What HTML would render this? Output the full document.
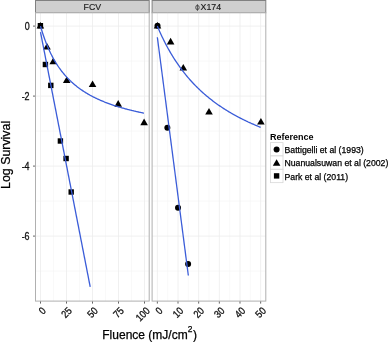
<!DOCTYPE html><html><head><meta charset="utf-8"><style>html,body{margin:0;padding:0;background:#fff;}svg{display:block;will-change:transform;}text{font-family:"Liberation Sans",sans-serif;} .t{stroke:#000;stroke-width:0.25px;}</style></head><body>
<svg width="388" height="342" viewBox="0 0 388 342">
<rect x="0" y="0" width="388" height="342" fill="#fff"/>
<rect x="35.5" y="0.5" width="113.7" height="12.3" fill="#CFCFCF" stroke="#808080" stroke-width="1"/>
<text x="92.35" y="10.3" font-size="8.8" text-anchor="middle" fill="#1a1a1a" stroke="#1a1a1a" stroke-width="0.15">FCV</text>
<rect x="35.5" y="12.8" width="113.7" height="288.3" fill="#fff"/>
<line x1="53.5" y1="12.8" x2="53.5" y2="301.1" stroke="#F7F7F7" stroke-width="0.7"/>
<line x1="79.5" y1="12.8" x2="79.5" y2="301.1" stroke="#F7F7F7" stroke-width="0.7"/>
<line x1="105.5" y1="12.8" x2="105.5" y2="301.1" stroke="#F7F7F7" stroke-width="0.7"/>
<line x1="131.5" y1="12.8" x2="131.5" y2="301.1" stroke="#F7F7F7" stroke-width="0.7"/>
<line x1="35.5" y1="61.1" x2="149.2" y2="61.1" stroke="#F7F7F7" stroke-width="0.7"/>
<line x1="35.5" y1="131.1" x2="149.2" y2="131.1" stroke="#F7F7F7" stroke-width="0.7"/>
<line x1="35.5" y1="201.1" x2="149.2" y2="201.1" stroke="#F7F7F7" stroke-width="0.7"/>
<line x1="35.5" y1="271.1" x2="149.2" y2="271.1" stroke="#F7F7F7" stroke-width="0.7"/>
<line x1="40.5" y1="12.8" x2="40.5" y2="301.1" stroke="#ECECEC" stroke-width="0.8"/>
<line x1="66.5" y1="12.8" x2="66.5" y2="301.1" stroke="#ECECEC" stroke-width="0.8"/>
<line x1="92.5" y1="12.8" x2="92.5" y2="301.1" stroke="#ECECEC" stroke-width="0.8"/>
<line x1="118.5" y1="12.8" x2="118.5" y2="301.1" stroke="#ECECEC" stroke-width="0.8"/>
<line x1="144.5" y1="12.8" x2="144.5" y2="301.1" stroke="#ECECEC" stroke-width="0.8"/>
<line x1="35.5" y1="26.1" x2="149.2" y2="26.1" stroke="#ECECEC" stroke-width="0.8"/>
<line x1="35.5" y1="96.1" x2="149.2" y2="96.1" stroke="#ECECEC" stroke-width="0.8"/>
<line x1="35.5" y1="166.1" x2="149.2" y2="166.1" stroke="#ECECEC" stroke-width="0.8"/>
<line x1="35.5" y1="236.1" x2="149.2" y2="236.1" stroke="#ECECEC" stroke-width="0.8"/>
<line x1="40.5" y1="301.1" x2="40.5" y2="303.6" stroke="#555555" stroke-width="0.9"/>
<text x="0" y="0" font-size="10.4" text-anchor="end" fill="#111" stroke="#111" stroke-width="0.3" transform="translate(46.5 311.5) rotate(-45) scale(0.86 1)">0</text>
<line x1="66.5" y1="301.1" x2="66.5" y2="303.6" stroke="#555555" stroke-width="0.9"/>
<text x="0" y="0" font-size="10.4" text-anchor="end" fill="#111" stroke="#111" stroke-width="0.3" transform="translate(72.5 311.5) rotate(-45) scale(0.86 1)">25</text>
<line x1="92.5" y1="301.1" x2="92.5" y2="303.6" stroke="#555555" stroke-width="0.9"/>
<text x="0" y="0" font-size="10.4" text-anchor="end" fill="#111" stroke="#111" stroke-width="0.3" transform="translate(98.5 311.5) rotate(-45) scale(0.86 1)">50</text>
<line x1="118.5" y1="301.1" x2="118.5" y2="303.6" stroke="#555555" stroke-width="0.9"/>
<text x="0" y="0" font-size="10.4" text-anchor="end" fill="#111" stroke="#111" stroke-width="0.3" transform="translate(124.5 311.5) rotate(-45) scale(0.86 1)">75</text>
<line x1="144.5" y1="301.1" x2="144.5" y2="303.6" stroke="#555555" stroke-width="0.9"/>
<text x="0" y="0" font-size="10.4" text-anchor="end" fill="#111" stroke="#111" stroke-width="0.3" transform="translate(150.5 311.5) rotate(-45) scale(0.86 1)">100</text>
<rect x="152.1" y="0.5" width="113.7" height="12.3" fill="#CFCFCF" stroke="#808080" stroke-width="1"/>
<ellipse cx="197.45" cy="7.5" rx="1.75" ry="2.2" fill="none" stroke="#333" stroke-width="0.8"/>
<line x1="197.45" y1="4.3" x2="197.45" y2="10.8" stroke="#333" stroke-width="0.75"/>
<text x="200.6" y="10.3" font-size="8.8" fill="#1a1a1a" stroke="#1a1a1a" stroke-width="0.15">X174</text>
<rect x="152.1" y="12.8" width="113.7" height="288.3" fill="#fff"/>
<line x1="167.68" y1="12.8" x2="167.68" y2="301.1" stroke="#F7F7F7" stroke-width="0.7"/>
<line x1="188.34" y1="12.8" x2="188.34" y2="301.1" stroke="#F7F7F7" stroke-width="0.7"/>
<line x1="209" y1="12.8" x2="209" y2="301.1" stroke="#F7F7F7" stroke-width="0.7"/>
<line x1="229.66" y1="12.8" x2="229.66" y2="301.1" stroke="#F7F7F7" stroke-width="0.7"/>
<line x1="250.32" y1="12.8" x2="250.32" y2="301.1" stroke="#F7F7F7" stroke-width="0.7"/>
<line x1="152.1" y1="61.1" x2="265.8" y2="61.1" stroke="#F7F7F7" stroke-width="0.7"/>
<line x1="152.1" y1="131.1" x2="265.8" y2="131.1" stroke="#F7F7F7" stroke-width="0.7"/>
<line x1="152.1" y1="201.1" x2="265.8" y2="201.1" stroke="#F7F7F7" stroke-width="0.7"/>
<line x1="152.1" y1="271.1" x2="265.8" y2="271.1" stroke="#F7F7F7" stroke-width="0.7"/>
<line x1="157.35" y1="12.8" x2="157.35" y2="301.1" stroke="#ECECEC" stroke-width="0.8"/>
<line x1="178.01" y1="12.8" x2="178.01" y2="301.1" stroke="#ECECEC" stroke-width="0.8"/>
<line x1="198.67" y1="12.8" x2="198.67" y2="301.1" stroke="#ECECEC" stroke-width="0.8"/>
<line x1="219.33" y1="12.8" x2="219.33" y2="301.1" stroke="#ECECEC" stroke-width="0.8"/>
<line x1="239.99" y1="12.8" x2="239.99" y2="301.1" stroke="#ECECEC" stroke-width="0.8"/>
<line x1="260.65" y1="12.8" x2="260.65" y2="301.1" stroke="#ECECEC" stroke-width="0.8"/>
<line x1="152.1" y1="26.1" x2="265.8" y2="26.1" stroke="#ECECEC" stroke-width="0.8"/>
<line x1="152.1" y1="96.1" x2="265.8" y2="96.1" stroke="#ECECEC" stroke-width="0.8"/>
<line x1="152.1" y1="166.1" x2="265.8" y2="166.1" stroke="#ECECEC" stroke-width="0.8"/>
<line x1="152.1" y1="236.1" x2="265.8" y2="236.1" stroke="#ECECEC" stroke-width="0.8"/>
<line x1="157.35" y1="301.1" x2="157.35" y2="303.6" stroke="#555555" stroke-width="0.9"/>
<text x="0" y="0" font-size="10.4" text-anchor="end" fill="#111" stroke="#111" stroke-width="0.3" transform="translate(163.35 311.5) rotate(-45) scale(0.86 1)">0</text>
<line x1="178.01" y1="301.1" x2="178.01" y2="303.6" stroke="#555555" stroke-width="0.9"/>
<text x="0" y="0" font-size="10.4" text-anchor="end" fill="#111" stroke="#111" stroke-width="0.3" transform="translate(184.01 311.5) rotate(-45) scale(0.86 1)">10</text>
<line x1="198.67" y1="301.1" x2="198.67" y2="303.6" stroke="#555555" stroke-width="0.9"/>
<text x="0" y="0" font-size="10.4" text-anchor="end" fill="#111" stroke="#111" stroke-width="0.3" transform="translate(204.67 311.5) rotate(-45) scale(0.86 1)">20</text>
<line x1="219.33" y1="301.1" x2="219.33" y2="303.6" stroke="#555555" stroke-width="0.9"/>
<text x="0" y="0" font-size="10.4" text-anchor="end" fill="#111" stroke="#111" stroke-width="0.3" transform="translate(225.33 311.5) rotate(-45) scale(0.86 1)">30</text>
<line x1="239.99" y1="301.1" x2="239.99" y2="303.6" stroke="#555555" stroke-width="0.9"/>
<text x="0" y="0" font-size="10.4" text-anchor="end" fill="#111" stroke="#111" stroke-width="0.3" transform="translate(245.99 311.5) rotate(-45) scale(0.86 1)">40</text>
<line x1="260.65" y1="301.1" x2="260.65" y2="303.6" stroke="#555555" stroke-width="0.9"/>
<text x="0" y="0" font-size="10.4" text-anchor="end" fill="#111" stroke="#111" stroke-width="0.3" transform="translate(266.65 311.5) rotate(-45) scale(0.86 1)">50</text>
<line x1="33" y1="26.1" x2="35.5" y2="26.1" stroke="#555555" stroke-width="0.9"/>
<text x="0" y="0" font-size="10.4" text-anchor="end" fill="#111" stroke="#111" stroke-width="0.3" transform="translate(29.6 30.4) scale(0.86 1)">0</text>
<line x1="33" y1="96.1" x2="35.5" y2="96.1" stroke="#555555" stroke-width="0.9"/>
<text x="0" y="0" font-size="10.4" text-anchor="end" fill="#111" stroke="#111" stroke-width="0.3" transform="translate(29.6 100.4) scale(0.86 1)">-2</text>
<line x1="33" y1="166.1" x2="35.5" y2="166.1" stroke="#555555" stroke-width="0.9"/>
<text x="0" y="0" font-size="10.4" text-anchor="end" fill="#111" stroke="#111" stroke-width="0.3" transform="translate(29.6 170.4) scale(0.86 1)">-4</text>
<line x1="33" y1="236.1" x2="35.5" y2="236.1" stroke="#555555" stroke-width="0.9"/>
<text x="0" y="0" font-size="10.4" text-anchor="end" fill="#111" stroke="#111" stroke-width="0.3" transform="translate(29.6 240.4) scale(0.86 1)">-6</text>
<rect x="37.7" y="23" width="5.4" height="5.4" fill="#000"/>
<rect x="42.7" y="61.8" width="5.4" height="5.4" fill="#000"/>
<rect x="48.1" y="82.7" width="5.4" height="5.4" fill="#000"/>
<rect x="57.7" y="138.3" width="5.4" height="5.4" fill="#000"/>
<rect x="63.4" y="155.8" width="5.4" height="5.4" fill="#000"/>
<rect x="68.5" y="189.3" width="5.4" height="5.4" fill="#000"/>
<path d="M40.4 21.91L44.2 28.49L36.6 28.49Z" fill="#000"/>
<path d="M47 42.91L50.8 49.49L43.2 49.49Z" fill="#000"/>
<path d="M53.2 57.71L57 64.29L49.4 64.29Z" fill="#000"/>
<path d="M66.7 76.41L70.5 82.99L62.9 82.99Z" fill="#000"/>
<path d="M92.55 80.51L96.35 87.09L88.75 87.09Z" fill="#000"/>
<path d="M118.2 100.11L122 106.69L114.4 106.69Z" fill="#000"/>
<path d="M144.1 118.61L147.9 125.19L140.3 125.19Z" fill="#000"/>
<circle cx="157.5" cy="25.8" r="3" fill="#000"/>
<circle cx="167.35" cy="127.75" r="3" fill="#000"/>
<circle cx="178" cy="207.7" r="3" fill="#000"/>
<circle cx="188.1" cy="263.95" r="3" fill="#000"/>
<path d="M157.5 21.91L161.3 28.49L153.7 28.49Z" fill="#000"/>
<path d="M170.6 37.81L174.4 44.39L166.8 44.39Z" fill="#000"/>
<path d="M183.3 63.91L187.1 70.49L179.5 70.49Z" fill="#000"/>
<path d="M209 107.91L212.8 114.49L205.2 114.49Z" fill="#000"/>
<path d="M260.9 118.01L264.7 124.59L257.1 124.59Z" fill="#000"/>
<path d="M40.5 32.02 L90.21 286.81" fill="none" stroke="#3A5CD8" stroke-width="1.3" stroke-linejoin="round"/>
<path d="M40.5 26.1 L41.19 28.48 L41.88 30.75 L42.57 32.94 L43.26 35.04 L43.95 37.07 L44.64 39.01 L45.33 40.88 L46.02 42.69 L46.71 44.43 L47.4 46.11 L48.09 47.74 L48.78 49.3 L49.47 50.82 L50.16 52.29 L50.85 53.71 L51.54 55.08 L52.23 56.41 L52.92 57.7 L53.61 58.95 L54.3 60.17 L54.99 61.35 L55.68 62.49 L56.37 63.6 L57.06 64.68 L57.75 65.74 L58.44 66.76 L59.13 67.75 L59.82 68.72 L60.51 69.66 L61.2 70.58 L61.89 71.48 L62.58 72.35 L63.27 73.2 L63.96 74.03 L64.65 74.84 L65.34 75.63 L66.03 76.4 L66.71 77.15 L67.4 77.89 L68.09 78.61 L68.78 79.31 L69.47 80 L70.16 80.67 L70.85 81.32 L71.54 81.97 L72.23 82.59 L72.92 83.21 L73.61 83.81 L74.3 84.4 L74.99 84.98 L75.68 85.55 L76.37 86.1 L77.06 86.64 L77.75 87.18 L78.44 87.7 L79.13 88.21 L79.82 88.71 L80.51 89.21 L81.2 89.69 L81.89 90.16 L82.58 90.63 L83.27 91.09 L83.96 91.53 L84.65 91.98 L85.34 92.41 L86.03 92.83 L86.72 93.25 L87.41 93.66 L88.1 94.07 L88.79 94.46 L89.48 94.85 L90.17 95.24 L90.86 95.61 L91.55 95.98 L92.24 96.35 L92.93 96.71 L93.62 97.06 L94.31 97.41 L95 97.75 L95.69 98.09 L96.38 98.42 L97.07 98.74 L97.76 99.06 L98.45 99.38 L99.14 99.69 L99.83 100 L100.52 100.3 L101.21 100.6 L101.9 100.89 L102.59 101.18 L103.28 101.47 L103.97 101.75 L104.66 102.02 L105.35 102.3 L106.04 102.56 L106.73 102.83 L107.42 103.09 L108.11 103.35 L108.8 103.6 L109.49 103.85 L110.18 104.1 L110.87 104.35 L111.56 104.59 L112.25 104.83 L112.94 105.06 L113.63 105.29 L114.32 105.52 L115.01 105.75 L115.7 105.97 L116.39 106.19 L117.08 106.41 L117.77 106.62 L118.45 106.83 L119.14 107.04 L119.83 107.25 L120.52 107.45 L121.21 107.65 L121.9 107.85 L122.59 108.05 L123.28 108.24 L123.97 108.44 L124.66 108.63 L125.35 108.81 L126.04 109 L126.73 109.18 L127.42 109.36 L128.11 109.54 L128.8 109.72 L129.49 109.89 L130.18 110.07 L130.87 110.24 L131.56 110.41 L132.25 110.57 L132.94 110.74 L133.63 110.9 L134.32 111.06 L135.01 111.22 L135.7 111.38 L136.39 111.54 L137.08 111.69 L137.77 111.85 L138.46 112 L139.15 112.15 L139.84 112.3 L140.53 112.45 L141.22 112.59 L141.91 112.73 L142.6 112.88 L143.29 113.02 L143.98 113.16" fill="none" stroke="#3A5CD8" stroke-width="1.3" stroke-linejoin="round"/>
<path d="M157.35 26.1 L158.04 27.73 L158.73 29.33 L159.42 30.91 L160.1 32.45 L160.79 33.96 L161.48 35.45 L162.17 36.91 L162.86 38.34 L163.55 39.75 L164.24 41.14 L164.93 42.5 L165.61 43.83 L166.3 45.15 L166.99 46.44 L167.68 47.71 L168.37 48.95 L169.06 50.18 L169.75 51.39 L170.43 52.58 L171.12 53.75 L171.81 54.9 L172.5 56.03 L173.19 57.14 L173.88 58.24 L174.57 59.32 L175.26 60.38 L175.94 61.43 L176.63 62.46 L177.32 63.48 L178.01 64.48 L178.7 65.46 L179.39 66.43 L180.08 67.39 L180.76 68.33 L181.45 69.26 L182.14 70.18 L182.83 71.08 L183.52 71.97 L184.21 72.85 L184.9 73.72 L185.59 74.57 L186.27 75.41 L186.96 76.24 L187.65 77.06 L188.34 77.87 L189.03 78.67 L189.72 79.46 L190.41 80.23 L191.09 81 L191.78 81.76 L192.47 82.51 L193.16 83.24 L193.85 83.97 L194.54 84.69 L195.23 85.4 L195.92 86.1 L196.6 86.79 L197.29 87.48 L197.98 88.15 L198.67 88.82 L199.36 89.48 L200.05 90.13 L200.74 90.77 L201.42 91.41 L202.11 92.04 L202.8 92.66 L203.49 93.27 L204.18 93.88 L204.87 94.48 L205.56 95.07 L206.25 95.65 L206.93 96.23 L207.62 96.8 L208.31 97.37 L209 97.93 L209.69 98.48 L210.38 99.03 L211.07 99.57 L211.75 100.11 L212.44 100.64 L213.13 101.16 L213.82 101.68 L214.51 102.19 L215.2 102.7 L215.89 103.2 L216.58 103.7 L217.26 104.19 L217.95 104.68 L218.64 105.16 L219.33 105.63 L220.02 106.11 L220.71 106.57 L221.4 107.03 L222.08 107.49 L222.77 107.94 L223.46 108.39 L224.15 108.84 L224.84 109.27 L225.53 109.71 L226.22 110.14 L226.91 110.57 L227.59 110.99 L228.28 111.41 L228.97 111.82 L229.66 112.23 L230.35 112.64 L231.04 113.04 L231.73 113.44 L232.41 113.83 L233.1 114.23 L233.79 114.61 L234.48 115 L235.17 115.38 L235.86 115.76 L236.55 116.13 L237.24 116.5 L237.92 116.87 L238.61 117.23 L239.3 117.59 L239.99 117.95 L240.68 118.3 L241.37 118.65 L242.06 119 L242.74 119.34 L243.43 119.69 L244.12 120.02 L244.81 120.36 L245.5 120.69 L246.19 121.02 L246.88 121.35 L247.57 121.67 L248.25 122 L248.94 122.31 L249.63 122.63 L250.32 122.94 L251.01 123.25 L251.7 123.56 L252.39 123.87 L253.07 124.17 L253.76 124.47 L254.45 124.77 L255.14 125.07 L255.83 125.36 L256.52 125.65 L257.21 125.94 L257.9 126.23 L258.58 126.51 L259.27 126.79 L259.96 127.07 L260.65 127.35" fill="none" stroke="#3A5CD8" stroke-width="1.3" stroke-linejoin="round"/>
<path d="M157.35 37.27 L188.34 275.51" fill="none" stroke="#3A5CD8" stroke-width="1.3" stroke-linejoin="round"/>
<rect x="35.5" y="12.8" width="113.7" height="288.3" fill="none" stroke="#B0B0B0" stroke-width="1"/>
<rect x="152.1" y="12.8" width="113.7" height="288.3" fill="none" stroke="#B0B0B0" stroke-width="1"/>
<text class="t" x="10.3" y="154.9" font-size="12.4" text-anchor="middle" fill="#000" transform="rotate(-90 10.3 154.9)">Log Survival</text>
<text class="t" x="149.6" y="338.8" font-size="12" text-anchor="middle" fill="#000">Fluence (mJ/cm<tspan font-size="8.4" dy="-7">2</tspan><tspan dy="7" dx="0.6">)</tspan></text>
<text x="269.9" y="139.8" font-size="9" font-weight="bold" fill="#000">Reference</text>
<rect x="270.5" y="142.6" width="12.5" height="13.35" fill="#fff" stroke="#D8D8D8" stroke-width="0.8"/>
<rect x="270.5" y="155.95" width="12.5" height="13.35" fill="#fff" stroke="#D8D8D8" stroke-width="0.8"/>
<rect x="270.5" y="169.3" width="12.5" height="13.35" fill="#fff" stroke="#D8D8D8" stroke-width="0.8"/>
<circle cx="276.6" cy="149.5" r="3" fill="#000"/>
<path d="M276.6 159.26L280.4 165.84L272.8 165.84Z" fill="#000"/>
<rect x="273.9" y="173.2" width="5.4" height="5.4" fill="#000"/>
<text class="t" x="284.5" y="153.1" font-size="8.7" fill="#000">Battigelli et al (1993)</text>
<text class="t" x="284.5" y="166.45" font-size="8.7" fill="#000">Nuanualsuwan et al (2002)</text>
<text class="t" x="284.5" y="179.8" font-size="8.7" fill="#000">Park et al (2011)</text>
</svg></body></html>
